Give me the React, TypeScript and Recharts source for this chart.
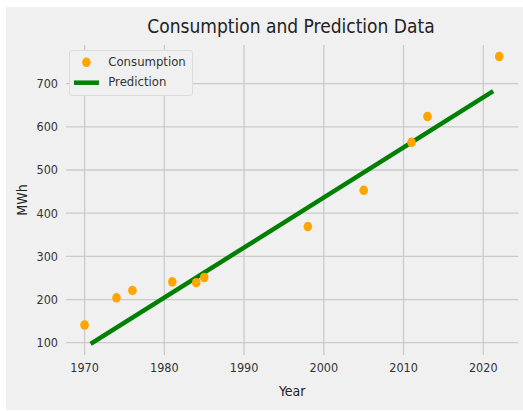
import React from "react";
import {
  ComposedChart,
  XAxis,
  YAxis,
  ReferenceLine,
  Scatter,
  Line,
} from "recharts";

const consumptionYears = [1970, 1974, 1976, 1981, 1984, 1985, 1998, 2005, 2011, 2013, 2022];
const consumptionValues = [141, 204, 221, 241, 239, 251, 369, 453, 564, 624, 763];
const predictionYears = [1971, 2021];
const predictionValues = [100, 680];
const xTicks = [1970, 1980, 1990, 2000, 2010, 2020];
const yTicks = [100, 200, 300, 400, 500, 600, 700];

const consumptionData = consumptionYears.map((year, i) => ({ year, value: consumptionValues[i] }));
const predictionData = predictionYears.map((year, i) => ({ year, value: predictionValues[i] }));

const FONT = "'DejaVu Sans Condensed', 'DejaVu Sans', sans-serif";
const ORANGE = "#FFA500";
const GREEN = "#008000";
const GRID = "#cbcbcb";

const LegendBox = () => (
  <div
    style={{
      position: "absolute",
      left: 63.3,
      top: 43,
      width: 124,
      height: 46,
      boxSizing: "border-box",
      border: "1px solid #dcdcdc",
      borderRadius: 3,
      background: "#f0f0f0",
      fontFamily: FONT,
      fontStretch: "condensed",
      fontSize: 13,
      color: "#333",
      zIndex: 2,
    }}
  >
    <svg width={124} height={46} style={{ position: "absolute", left: -1, top: -1 }}>
      <ellipse cx={17.4} cy={12.3} rx={4.3} ry={4.8} fill={ORANGE} />
      <line x1={5} y1={32.7} x2={30} y2={32.7} stroke={GREEN} strokeWidth={4.5} />
    </svg>
    <div style={{ position: "absolute", left: 38, top: 2.5, lineHeight: "16px", whiteSpace: "nowrap" }}>Consumption</div>
    <div style={{ position: "absolute", left: 38, top: 23, lineHeight: "16px", whiteSpace: "nowrap" }}>Prediction</div>
  </div>
);

const axisText = { fill: "#333", fontSize: 12.5, fontFamily: FONT, fontStretch: "condensed" } as any;
const labelText = { fill: "#222", fontSize: 14, fontFamily: FONT, fontStretch: "condensed" } as any;

export default function App() {
  return (
    <div
      style={{
        position: "absolute",
        left: 6,
        top: 7,
        width: 517,
        height: 403,
        background: "#f0f0f0",
        fontFamily: FONT,
      }}
    >
      <div
        style={{
          position: "absolute",
          left: 0,
          width: 570,
          top: 7,
          textAlign: "center",
          fontSize: 19,
          fontStretch: "condensed",
          color: "#222",
          lineHeight: "24px",
          whiteSpace: "nowrap",
        }}
      >
        Consumption and Prediction Data
      </div>
      <ComposedChart
        width={517}
        height={403}
        margin={{ top: 38, right: 4.7, bottom: 0, left: 0 }}
        style={{ position: "absolute", left: 0, top: 0 }}
      >
        <XAxis
          dataKey="year"
          type="number"
          domain={[1967.67, 2024.39]}
          ticks={xTicks}
          allowDataOverflow
          tickLine={false}
          axisLine={false}
          height={55}
          tick={axisText}
          label={{ value: "Year", position: "center", dy: 9, ...labelText }}
        />
        <YAxis
          dataKey="value"
          type="number"
          domain={[71.5, 789.6]}
          ticks={yTicks}
          allowDataOverflow
          tickLine={false}
          axisLine={false}
          width={60}
          tick={axisText}
          label={{ value: "MWh", angle: -90, position: "center", dx: -14, ...labelText }}
        />
        {xTicks.map((t) => (
          <ReferenceLine key={"x" + t} x={t} stroke={GRID} strokeWidth={1.3} zIndex={-1} />
        ))}
        {yTicks.map((t) => (
          <ReferenceLine key={"y" + t} y={t} stroke={GRID} strokeWidth={1.3} zIndex={-1} />
        ))}
        <Line
          data={predictionData}
          dataKey="value"
          type="linear"
          stroke={GREEN}
          strokeWidth={4.5}
          strokeLinecap="square"
          dot={false}
          activeDot={false}
          isAnimationActive={false}
          name="Prediction"
        />
        <Scatter
          data={consumptionData}
          dataKey="value"
          name="Consumption"
          isAnimationActive={false}
          shape={(p: any) => <ellipse cx={p.cx} cy={p.cy} rx={4.3} ry={4.8} fill={ORANGE} />}
        />
      </ComposedChart>
      <LegendBox />
    </div>
  );
}
